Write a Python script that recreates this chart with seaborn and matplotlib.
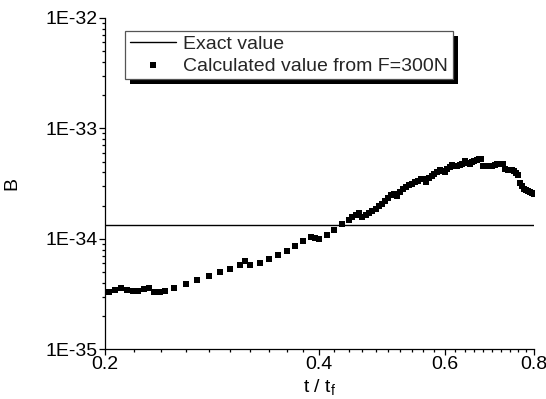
import numpy as np
import pandas as pd
import matplotlib
matplotlib.use("Agg")
import matplotlib.pyplot as plt
import seaborn as sns
from matplotlib.ticker import FixedLocator, NullFormatter, FixedFormatter
from matplotlib.patches import Rectangle
from matplotlib.transforms import IdentityTransform

# ---- data ----
t_values = [0.203, 0.207, 0.211, 0.215, 0.219, 0.223, 0.227, 0.231, 0.235, 0.239,
            0.243, 0.25, 0.26, 0.27, 0.28, 0.29, 0.30, 0.31, 0.315, 0.32,
            0.33, 0.34, 0.35, 0.36, 0.37, 0.38, 0.39, 0.395, 0.40, 0.41,
            0.42, 0.43, 0.44, 0.445, 0.45, 0.455, 0.46, 0.465, 0.47, 0.475,
            0.48, 0.485, 0.49, 0.495, 0.50, 0.505, 0.51, 0.515, 0.52, 0.525,
            0.53, 0.535, 0.54, 0.545, 0.55, 0.555, 0.56, 0.565, 0.57, 0.575,
            0.58, 0.585, 0.59, 0.595, 0.60, 0.605, 0.61, 0.615, 0.62, 0.625,
            0.63, 0.635, 0.64, 0.645, 0.65, 0.655, 0.66, 0.665, 0.67, 0.675,
            0.68, 0.685, 0.69, 0.695, 0.70, 0.705, 0.71, 0.715, 0.72, 0.725,
            0.73, 0.735, 0.74, 0.745, 0.75, 0.755, 0.76, 0.765, 0.77, 0.775,
            0.78, 0.785, 0.79, 0.795, 0.80]
b_values = [3.3e-35, 3.45e-35, 3.55e-35, 3.45e-35, 3.35e-35, 3.4e-35, 3.5e-35, 3.6e-35, 3.3e-35, 3.3e-35,
            3.35e-35, 3.6e-35, 3.9e-35, 4.25e-35, 4.6e-35, 5.0e-35, 5.35e-35, 5.8e-35, 6.3e-35, 5.8e-35,
            6.1e-35, 6.6e-35, 7.15e-35, 7.8e-35, 8.6e-35, 9.5e-35, 1.03e-34, 1.02e-34, 9.9e-35, 1.08e-34,
            1.20e-34, 1.35e-34, 1.48e-34, 1.56e-34, 1.65e-34, 1.72e-34, 1.58e-34, 1.63e-34, 1.70e-34, 1.78e-34,
            1.86e-34, 1.97e-34, 2.08e-34, 2.20e-34, 2.33e-34, 2.48e-34, 2.56e-34, 2.46e-34, 2.68e-34, 2.82e-34,
            2.95e-34, 3.05e-34, 3.15e-34, 3.26e-34, 3.36e-34, 3.46e-34, 3.48e-34, 3.30e-34, 3.53e-34, 3.70e-34,
            3.84e-34, 4.00e-34, 4.22e-34, 4.15e-34, 4.00e-34, 4.25e-34, 4.45e-34, 4.62e-34, 4.55e-34, 4.52e-34,
            4.65e-34, 4.80e-34, 5.05e-34, 4.90e-34, 4.80e-34, 4.95e-34, 5.10e-34, 5.22e-34, 5.28e-34, 5.24e-34,
            4.58e-34, 4.54e-34, 4.53e-34, 4.54e-34, 4.56e-34, 4.70e-34, 4.78e-34, 4.80e-34, 4.79e-34, 4.72e-34,
            4.30e-34, 4.24e-34, 4.22e-34, 4.20e-34, 4.15e-34, 3.95e-34, 3.75e-34, 3.20e-34, 2.98e-34, 2.85e-34,
            2.75e-34, 2.70e-34, 2.64e-34, 2.58e-34, 2.53e-34]
exact_value = 1.325e-34
series_labels = ["Exact value", "Calculated value from F=300N"]
x_ticks = [0.2, 0.4, 0.6, 0.8]
x_tick_labels = ["0.2", "0.4", "0.6", "0.8"]
x_minor_ticks = [0.22, 0.24, 0.26, 0.28, 0.30, 0.32, 0.34, 0.36, 0.38,
                 0.42, 0.44, 0.46, 0.48, 0.50, 0.52, 0.54, 0.56, 0.58,
                 0.62, 0.64, 0.66, 0.68, 0.70, 0.72, 0.74, 0.76, 0.78]
y_ticks = [1e-35, 1e-34, 1e-33, 1e-32]
y_tick_labels = ["1E-35", "1E-34", "1E-33", "1E-32"]
x_label = r"t / t$_\mathregular{f}$"
y_label = "B"

# ---- style ----
sns.set_theme(style="ticks")
plt.rcParams["font.family"] = ["Liberation Sans", "DejaVu Sans"]
plt.rcParams["mathtext.fontset"] = "custom"
plt.rcParams["mathtext.rm"] = "Liberation Sans"
FS = 14

fig = plt.figure(figsize=(5.46, 3.99), dpi=100)
fig.patch.set_facecolor("white")
ax = fig.add_axes([0.1914, 0.1248, 0.7863, 0.8301])
ax.set_facecolor("white")
ax.set_xscale("log")
ax.set_yscale("log")

df = pd.DataFrame({"t": t_values, "B": b_values})
line = ax.axhline(exact_value, color="black", lw=1.0, label=series_labels[0], zorder=2)
sns.scatterplot(data=df, x="t", y="B", marker="s", s=18, color="black",
                linewidth=0, ax=ax, zorder=3, legend=False)
pts = ax.collections[-1]
pts.set_label(series_labels[1])

ax.set_xlim(0.2, 0.8)
ax.set_ylim(1e-35, 1e-32)

ax.xaxis.set_major_locator(FixedLocator(x_ticks))
ax.xaxis.set_major_formatter(FixedFormatter(x_tick_labels))
ax.xaxis.set_minor_locator(FixedLocator(x_minor_ticks))
ax.xaxis.set_minor_formatter(NullFormatter())
ax.yaxis.set_major_locator(FixedLocator(y_ticks))
ax.yaxis.set_major_formatter(FixedFormatter(y_tick_labels))
y_minor = [m * 10.0 ** e for e in (-35, -34, -33) for m in range(2, 10)]
ax.yaxis.set_minor_locator(FixedLocator(y_minor))
ax.yaxis.set_minor_formatter(NullFormatter())

ax.tick_params(which="major", direction="out", length=4, width=0.9, labelsize=FS,
               color="black", labelcolor="black", pad=1)
ax.tick_params(which="minor", direction="out", length=2.2, width=0.9, color="black")
for s in ["top", "right"]:
    ax.spines[s].set_visible(False)
for s in ["left", "bottom"]:
    ax.spines[s].set_color("black")
    ax.spines[s].set_linewidth(0.9)

ax.set_xlabel(x_label, fontsize=FS, color="black", labelpad=3)
ax.set_ylabel(y_label, fontsize=FS, color="black", labelpad=18)

leg = ax.legend(handles=[line, pts], labels=series_labels, loc="upper left",
                bbox_to_anchor=(0.047, 0.962), borderaxespad=0, fontsize=FS,
                frameon=True, fancybox=False, framealpha=1, edgecolor="#555555",
                handlelength=2.4, handletextpad=0.35, labelspacing=0.2,
                borderpad=0.25, scatterpoints=1)
leg.get_frame().set_linewidth(0.9)
leg.set_zorder(6)

fig.canvas.draw()
bb = leg.get_window_extent()
shadow = Rectangle((bb.x0 + 5, bb.y0 - 5), bb.width, bb.height, transform=IdentityTransform(),
                   facecolor="black", edgecolor="none", zorder=5.5, clip_on=False)
ax.add_patch(shadow)

fig.savefig("out.png", dpi=100, facecolor="white")
